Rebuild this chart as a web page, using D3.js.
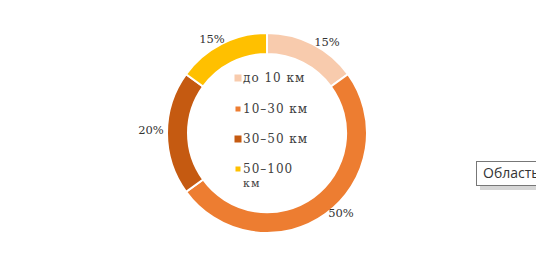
<!DOCTYPE html>
<html><head><meta charset="utf-8">
<script src="https://cdn.jsdelivr.net/npm/d3@7"></script>
<style>html,body{margin:0;padding:0;background:#fff;overflow:hidden}</style>
</head><body>
<svg id="c" width="536" height="259"></svg>
<script>
const categories = ["до 10 км", "10–30 км", "30–50 км", "50–100 км"];
const values = [15, 50, 20, 15];
const labels = ["15%", "50%", "20%", "15%"];
const colors = ["#F8CBAD", "#ED7D31", "#C55A11", "#FFC000"];

const svg = d3.select("#c");
const cx = 267, cy = 133, R = 100, r = 79;
const g = svg.append("g").attr("transform", `translate(${cx},${cy})`);
const pie = d3.pie().sort(null).value(d => d)(values);
const arc = d3.arc().innerRadius(r).outerRadius(R);
g.selectAll("path").data(pie).join("path")
  .attr("d", arc).attr("fill", (d, i) => colors[i])
  .attr("stroke", "#fff").attr("stroke-width", 2);

const lblPos = [[327, 43], [341, 214], [151, 131], [212, 40]];
svg.selectAll("text.lbl").data(labels).join("text").attr("class", "lbl")
  .attr("x", (d, i) => lblPos[i][0]).attr("y", (d, i) => lblPos[i][1])
  .attr("text-anchor", "middle").attr("dominant-baseline", "middle")
  .attr("font-family", "DejaVu Serif").attr("font-size", 11.5).attr("fill", "#333")
  .text(d => d);

const leg = svg.append("g");
const ly = [78, 109, 139, 169];
categories.forEach((c, i) => {
  const s = i % 2 === 0 ? 7 : 5;
  leg.append("rect").attr("x", 236 - s / 2 + 2).attr("y", ly[i] - s / 2).attr("width", s).attr("height", s).attr("fill", colors[i]);
  const t = leg.append("text").attr("x", 243).attr("y", ly[i])
    .attr("dominant-baseline", "middle").attr("font-family", "DejaVu Serif")
    .attr("font-size", 12).attr("letter-spacing", 1).attr("fill", "#404040");
  if (i === 3) {
    t.append("tspan").text("50–100");
    leg.append("text").attr("x", 243).attr("y", ly[i] + 15).attr("dominant-baseline", "middle")
      .attr("font-family", "DejaVu Serif").attr("font-size", 11).attr("letter-spacing", 1).attr("fill", "#404040").text("км");
  } else {
    t.text(c.replace(" км", "  км").replace("до ", "до  "));
  }
});

// tooltip box
const tip = svg.append("g");
tip.append("rect").attr("x", 480).attr("y", 166).attr("width", 70).attr("height", 24).attr("fill", "#bbb").attr("opacity", 0.6);
tip.append("rect").attr("x", 476.5).attr("y", 161.5).attr("width", 70).attr("height", 24).attr("fill", "#fff").attr("stroke", "#777");
tip.append("text").attr("x", 483).attr("y", 174).attr("dominant-baseline", "middle")
  .attr("font-family", "Open Sans").attr("font-size", 14).attr("fill", "#333").text("Область");
</script>
</body></html>
